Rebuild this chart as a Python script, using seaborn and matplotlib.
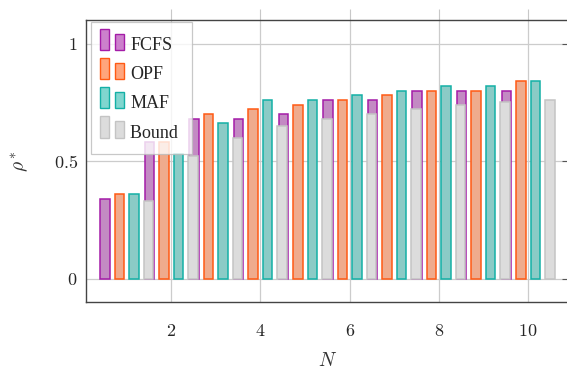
import matplotlib
matplotlib.use("Agg")
import matplotlib.pyplot as plt
import pandas as pd
import seaborn as sns
from matplotlib.patches import Rectangle
from matplotlib.legend_handler import HandlerBase

# values
N = list(range(1, 11))
fcfs = [0.34, 0.58, 0.68, 0.68, 0.70, 0.76, 0.76, 0.80, 0.80, 0.80]
opf = [0.36, 0.58, 0.70, 0.72, 0.74, 0.76, 0.78, 0.80, 0.80, 0.84]
maf = [0.36, 0.53, 0.66, 0.76, 0.76, 0.78, 0.80, 0.82, 0.82, 0.84]
bound = [0.33, 0.52, 0.60, 0.65, 0.68, 0.70, 0.72, 0.74, 0.75, 0.76]
policies = ["FCFS", "OPF", "MAF", "Bound"]
fills = ["#cc80cc", "#ffa57d", "#80d6cf", "#dcdcdc"]
edges = ["#a41ca8", "#ff5a14", "#14b0a6", "#c4c4c4"]
xticks = [2, 4, 6, 8, 10]
yticks = [0, 0.5, 1]

df = pd.DataFrame({
    "N": N * 4,
    "rho": fcfs + opf + maf + bound,
    "policy": [p for p in policies for _ in N],
})

sns.set_theme(style="white")
plt.rcParams["mathtext.fontset"] = "cm"
plt.rcParams["font.family"] = ["Liberation Serif", "DejaVu Serif"]

fig = plt.figure(figsize=(5.67, 3.71), dpi=100)
ax = fig.add_axes([86 / 567, 69 / 371, 484 / 567, 282 / 371])

sns.barplot(data=df, x="N", y="rho", hue="policy", hue_order=policies,
            palette=fills, native_scale=True, width=1.3, gap=0.345,
            errorbar=None, legend=False, linewidth=1.1, ax=ax)
for cont, ec in zip(ax.containers, edges):
    for bar in cont:
        bar.set_edgecolor(ec)

ax.set_xlim(0.09, 10.94)
ax.set_ylim(-0.1, 1.1)
ax.set_xticks(xticks, labels=[f"${t}$" for t in xticks])
ax.set_yticks(yticks, labels=["$0$", "$0.5$", "$1$"])
ax.tick_params(axis="x", direction="out", length=8, width=0.8, color="#c8c8c8",
               labelsize=13, pad=7, top=True)
ax.tick_params(axis="y", direction="in", length=6, width=0.8, color="#555555",
               labelsize=13, pad=6, right=True)
ax.set_axisbelow(True)
ax.grid(True, color="#cccccc", linewidth=0.9)
for s in ax.spines.values():
    s.set_color("#444444")
    s.set_linewidth(1.0)
ax.set_xlabel("$N$", fontsize=14, color="#333333", labelpad=9)
ax.set_ylabel(r"$\rho^*$", fontsize=14, color="#333333", labelpad=16)


class PairHandler(HandlerBase):
    # two bars standing on the text baseline, the first one taller
    def create_artists(self, legend, orig, xd, yd, w, h, fs, trans):
        fc, ec = orig.get_facecolor(), orig.get_edgecolor()
        r1 = Rectangle((-xd, 0), 6.0, 15.4, facecolor=fc, edgecolor=ec,
                       linewidth=1.0, transform=trans)
        r2 = Rectangle((-xd + w - 6.5, 0), 6.5, 11.8, facecolor=fc, edgecolor=ec,
                       linewidth=1.0, transform=trans)
        return [r1, r2]


handles = [Rectangle((0, 0), 1, 1, facecolor=f, edgecolor=e) for f, e in zip(fills, edges)]
labels = ["FCFS", "OPF", "MAF", "Bound "]
leg = ax.legend(handles, labels, loc="upper left",
                bbox_to_anchor=((91.3 - 86) / 484, (302 - 22) / 282),
                borderaxespad=0, fontsize=13, handlelength=1.33, handleheight=1.85,
                handletextpad=0.33, labelspacing=0.17, borderpad=0.5,
                frameon=True, fancybox=False, framealpha=0.8, edgecolor="#bbbbbb",
                handler_map={Rectangle: PairHandler()})
leg.get_frame().set_linewidth(0.9)

fig.savefig("out.png", dpi=100)
